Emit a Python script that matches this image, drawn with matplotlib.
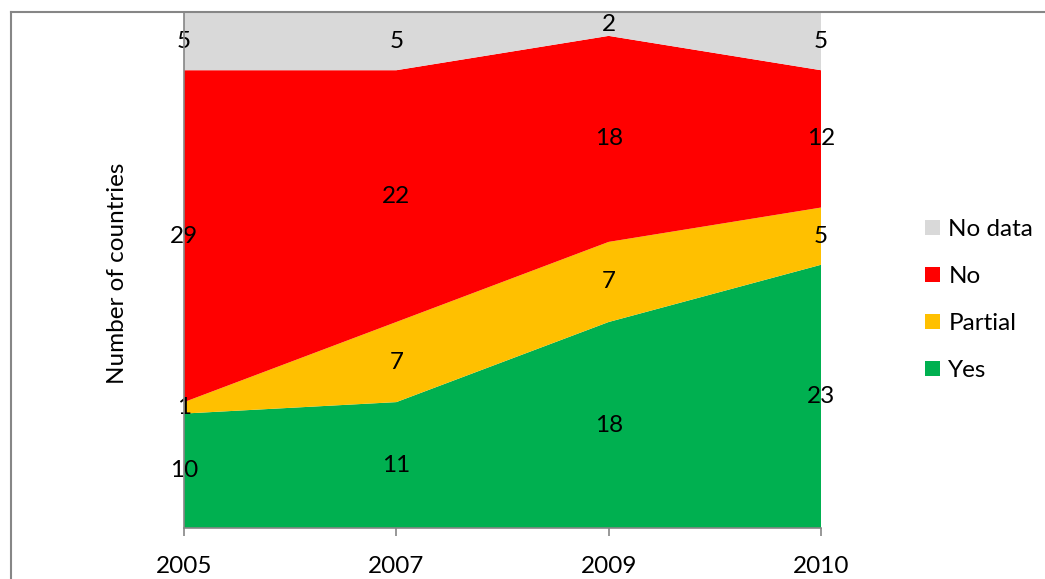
import matplotlib
matplotlib.use("Agg")
import matplotlib.pyplot as plt
from matplotlib.patches import Patch
from matplotlib.lines import Line2D

years = ["2005", "2007", "2009", "2010"]
yes = [10, 11, 18, 23]
partial = [1, 7, 7, 5]
no = [29, 22, 18, 12]
no_data = [5, 5, 2, 5]

series_names = ["Yes", "Partial", "No", "No data"]
colors = ["#00B050", "#FFC000", "#FF0000", "#D9D9D9"]

plt.rcParams["font.family"] = ["Lato", "DejaVu Sans"]
FS = 17.5

fig = plt.figure(figsize=(10.45, 5.79), dpi=100)
ax = fig.add_axes([184 / 1045, 1 - 528 / 579, 637 / 1045, 515 / 579])

x = list(range(len(years)))
stack = [yes, partial, no, no_data]
ax.stackplot(x, *stack, colors=colors, linewidth=0)

# data labels in the middle of each band
base = [0] * len(years)
for vals in stack:
    for i, v in enumerate(vals):
        ax.text(i, base[i] + v / 2, str(v), ha="center", va="center",
                fontsize=FS, color="black", clip_on=False)
    base = [b + v for b, v in zip(base, vals)]

ax.set_xlim(0, len(years) - 1)
ax.set_ylim(0, sum(v[0] for v in stack))
ax.set_xticks(x)
ax.set_xticklabels(years, fontsize=FS)
ax.set_yticks([])
ax.tick_params(axis="x", direction="out", length=6, width=1.2,
               color="#868686", pad=14)
for side in ["top", "right"]:
    ax.spines[side].set_visible(False)
for side in ["left", "bottom"]:
    ax.spines[side].set_color("#868686")
    ax.spines[side].set_linewidth(1.2)
    ax.spines[side].set_zorder(5)

ax.set_ylabel("Number of countries", fontsize=FS)
ax.yaxis.set_label_coords(-0.088, 0.495)

handles = [Patch(facecolor=c, edgecolor="none") for c in colors[::-1]]
fig.legend(handles, series_names[::-1], loc="center left",
           bbox_to_anchor=(903 / 1045, 1 - 300 / 579), frameon=False,
           fontsize=FS, handlelength=0.62, handleheight=0.62,
           handletextpad=0.35, labelspacing=1.07)

# outer chart border (cut off at the right and bottom)
fig.add_artist(Line2D([11 / 1045, 11 / 1045], [0, 1 - 12 / 579],
                      color="#868686", lw=1.5))
fig.add_artist(Line2D([11 / 1045, 1], [1 - 12 / 579, 1 - 12 / 579],
                      color="#868686", lw=1.5))

fig.savefig("out.png", dpi=100)
